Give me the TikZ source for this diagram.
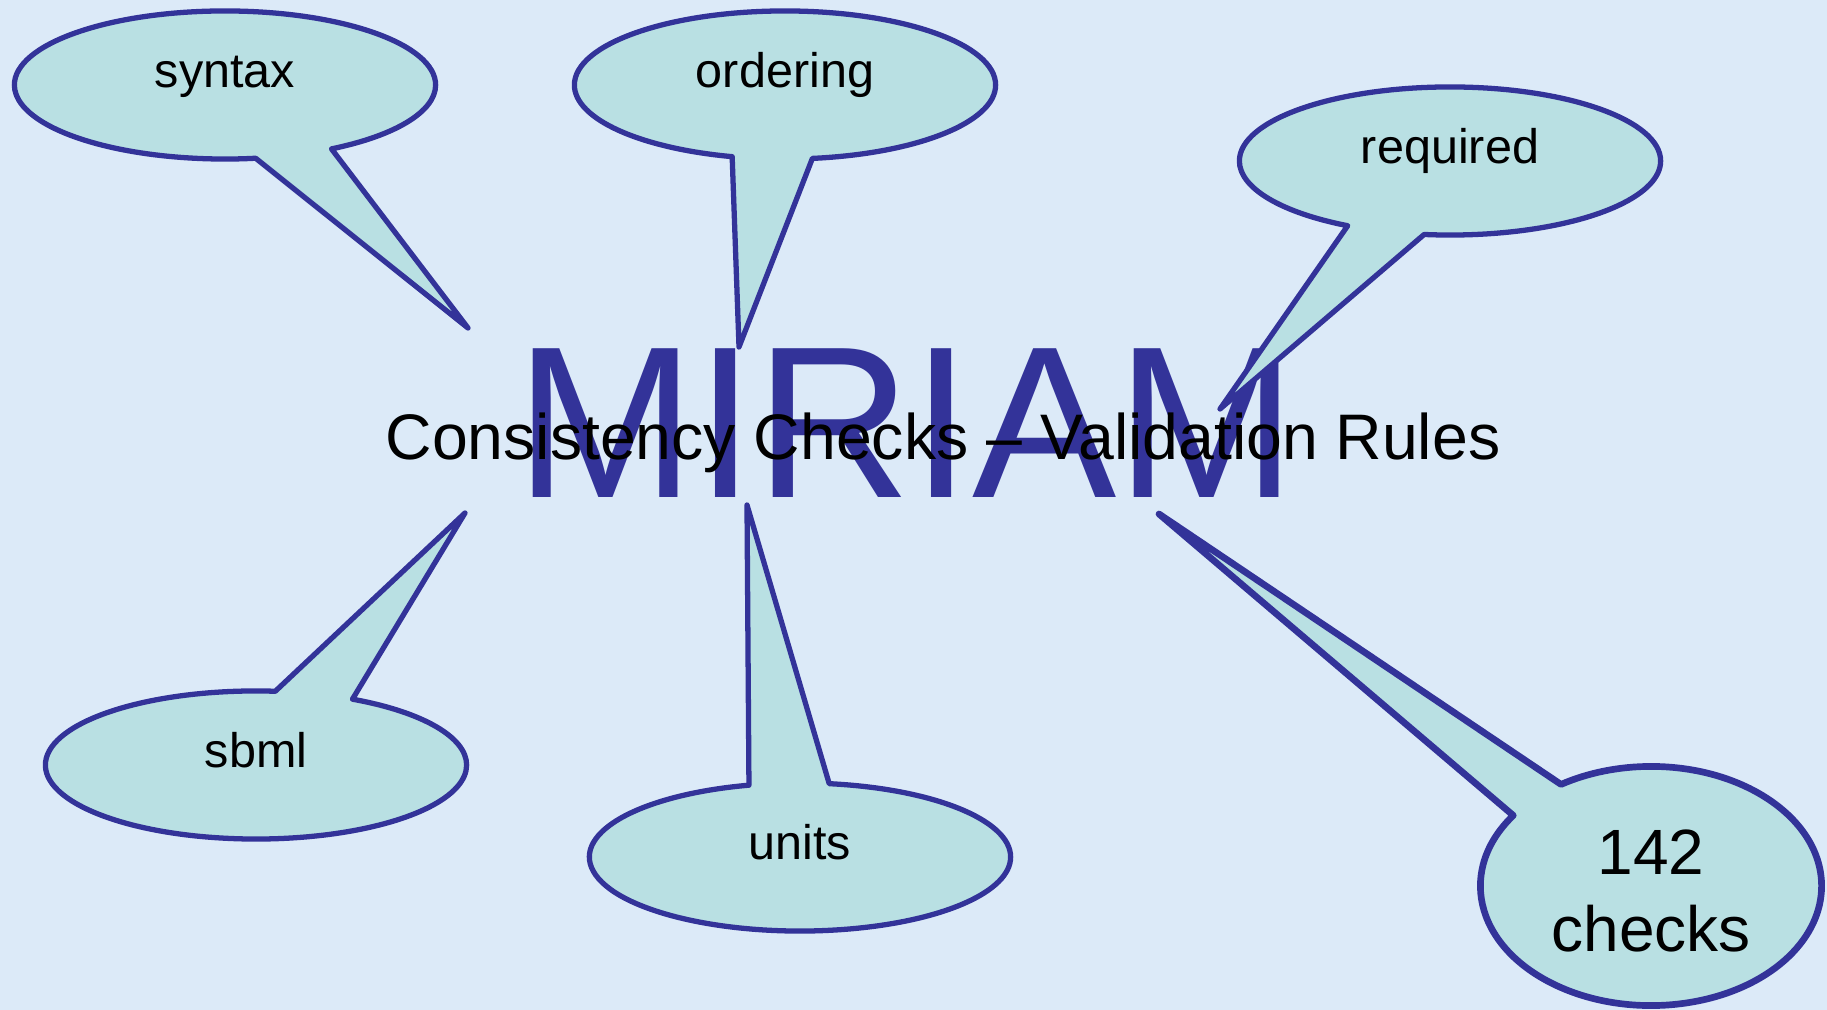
\documentclass[tikz,border=0pt]{standalone}
\usepackage{fontspec}
\setmainfont{Liberation Sans}
\usetikzlibrary{shapes.callouts, shapes.geometric}
\definecolor{miriamblue}{HTML}{333399}
\definecolor{bubblefill}{HTML}{B9E0E3}
\definecolor{slidebg}{HTML}{DCEAF8}

\begin{document}
\begin{tikzpicture}[
    x=0.01cm, y=-0.01cm,
    every node/.style={inner sep=0pt},
    bubble/.style={ellipse callout, draw=miriamblue, line width=1.5pt, line join=round, fill=bubblefill, minimum width=4.21cm, minimum height=1.48cm, callout pointer arc=22, font=\fontsize{13.8pt}{16pt}\selectfont, text height=1.5ex, text depth=1.25ex},
    bigbubble/.style={ellipse callout, draw=miriamblue, line width=1.9pt, line join=round, fill=bubblefill, minimum width=3.41cm, minimum height=2.39cm, callout pointer arc=22, align=center, font=\fontsize{18.2pt}{21.9pt}\selectfont},
    title/.style={text=miriamblue, font=\fontsize{61.5pt}{70pt}\selectfont, anchor=base},
    subtitle/.style={font=\fontsize{18.3pt}{22pt}\selectfont, anchor=base}
]
\fill[slidebg] (0,0) rectangle (1827,1010);
\useasboundingbox (0,0) rectangle (1827,1010);

\node[title] (miriam) at (906,498) {MIRIAM};

% where the tails point
\coordinate (syntaxtip) at (468,328);
\coordinate (orderingtip) at (739,347);
\coordinate (requiredtip) at (1220,409);
\coordinate (sbmltip) at (465,513);
\coordinate (unitstip) at (747,505);
\coordinate (checkstip) at (1159,514);

\node[bubble, callout absolute pointer={(syntaxtip)}] (syntax) at (225,85) {syntax};
\node[bubble, callout absolute pointer={(orderingtip)}] (ordering) at (785,85) {ordering};
\node[bubble, callout absolute pointer={(requiredtip)}] (required) at (1450,161) {required};
\node[bubble, callout absolute pointer={(sbmltip)}] (sbml) at (256,765) {sbml};
\node[bubble, callout absolute pointer={(unitstip)}] (units) at (800,857) {units};
\node[bigbubble, callout absolute pointer={(checkstip)}] (checks) at (1651,886) {\strut142\\checks};

\node[subtitle] (rules) at (943,460) {Consistency Checks – Validation Rules};

\end{tikzpicture}
\end{document}
